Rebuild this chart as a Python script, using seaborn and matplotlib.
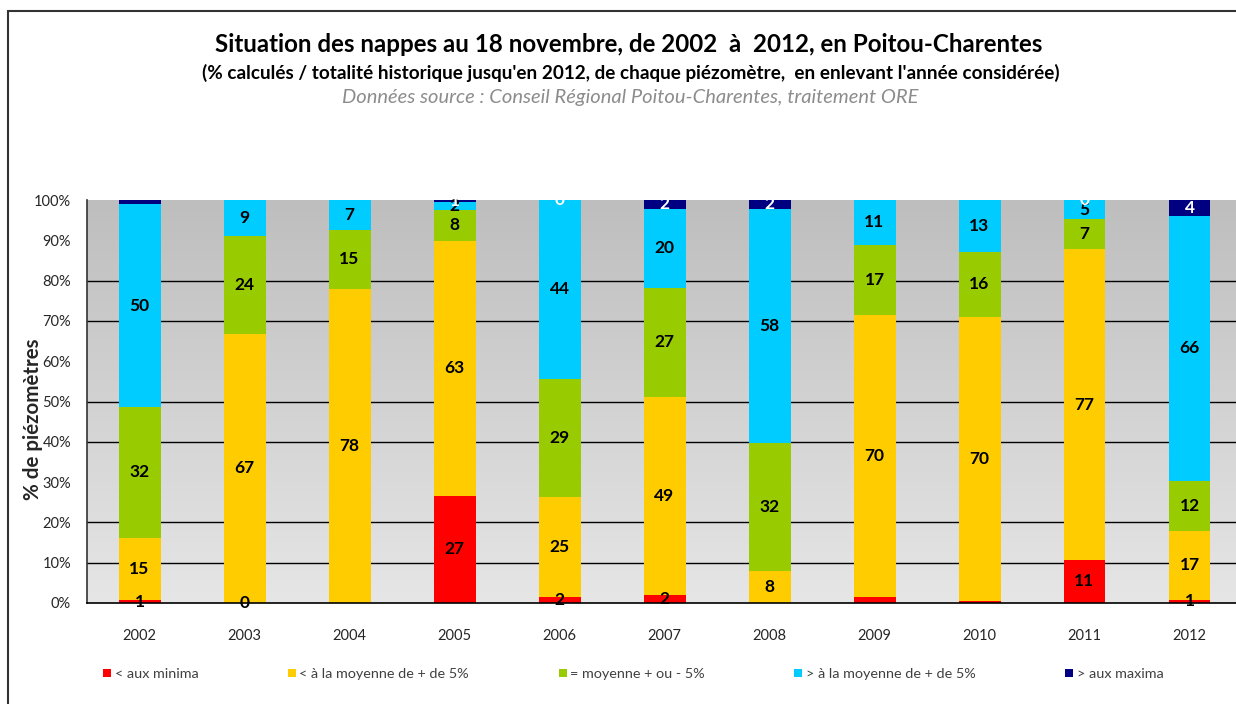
import numpy as np
import pandas as pd
import matplotlib
matplotlib.use("Agg")
import matplotlib.pyplot as plt
from matplotlib.patches import Patch, Rectangle
import seaborn as sns

# ---------------- data ----------------
years = ["2002", "2003", "2004", "2005", "2006", "2007", "2008", "2009", "2010", "2011", "2012"]
series_names = ["< aux minima", "< à la moyenne de + de 5%", "= moyenne + ou - 5%",
                "> à la moyenne de + de 5%", "> aux maxima"]
minima  = [0.7, 0.0, 0.0, 26.6, 1.6, 2.0, 0.0, 1.6, 0.6, 10.7, 0.8]
below   = [15.5, 66.8, 78.0, 63.3, 24.8, 49.1, 7.9, 69.9, 70.4, 77.1, 17.1]
mean_   = [32.4, 24.2, 14.6, 7.6, 29.3, 27.1, 31.8, 17.4, 16.1, 7.4, 12.4]
above   = [50.4, 9.0, 7.4, 1.9, 44.3, 19.6, 58.1, 11.1, 12.9, 4.8, 65.8]
maxima  = [1.0, 0.0, 0.0, 0.6, 0.0, 2.2, 2.2, 0.0, 0.0, 0.0, 3.9]
# data labels as shown on the chart ("" = no label)
lab_minima = ["1", "0", "", "27", "2", "2", "", "", "", "11", "1"]
lab_below  = ["15", "67", "78", "63", "25", "49", "8", "70", "70", "77", "17"]
lab_mean   = ["32", "24", "15", "8", "29", "27", "32", "17", "16", "7", "12"]
lab_above  = ["50", "9", "7", "2", "44", "20", "58", "11", "13", "5", "66"]
lab_maxima = ["", "", "", "1", "0", "2", "2", "", "", "0", "4"]
ytick_vals = [0, 10, 20, 30, 40, 50, 60, 70, 80, 90, 100]
grid_vals = [10, 20, 40, 50, 70, 80]

colors = ["#FF0000", "#FFCC00", "#99CC00", "#00CCFF", "#000080"]
label_colors = ["black", "black", "black", "black", "white"]

series = [minima, below, mean_, above, maxima]
labels = [lab_minima, lab_below, lab_mean, lab_above, lab_maxima]

# ---------------- style ----------------
sns.set_theme(style="white")
plt.rcParams["font.family"] = ["Lato", "DejaVu Sans"]

W, H = 1236, 704
fig = plt.figure(figsize=(W / 100, H / 100), dpi=100)
ax = fig.add_axes([87 / W, (H - 603) / H, 1155 / W, 403 / H])

# normalise to 100 %
arr = np.array(series, dtype=float)
arr = arr / arr.sum(axis=0) * 100.0
cum = np.cumsum(arr, axis=0)

# gradient background
grad = np.linspace(0, 1, 256).reshape(-1, 1)
cmap = matplotlib.colors.LinearSegmentedColormap.from_list("bg", ["#E6E6E6", "#BEBEBE"])
ax.imshow(grad, extent=[-0.5, 10.5, 0, 100], origin="lower", aspect="auto",
          cmap=cmap, zorder=0)

for v in grid_vals:
    ax.axhline(v, color="black", lw=1.0, zorder=1)

# stacked bars via cumulative totals (draw tallest first)
for i in range(len(series) - 1, -1, -1):
    df = pd.DataFrame({"year": years, "value": cum[i]})
    sns.barplot(data=df, x="year", y="value", color=colors[i], width=0.4,
                saturation=1, ax=ax, zorder=2, linewidth=0, errorbar=None)

# data labels
for i in range(len(series)):
    bottoms = cum[i] - arr[i]
    for j, txt in enumerate(labels[i]):
        if txt == "":
            continue
        yc = bottoms[j] + arr[i][j] / 2
        ax.text(j, yc, txt, ha="center", va="center", fontsize=12.5,
                fontweight="bold", color=label_colors[i], zorder=5, clip_on=False)

ax.set_xlim(-0.5, 10.5)
ax.set_ylim(0, 100)
ax.set_yticks(ytick_vals)
ax.set_yticklabels([f"{v}%" for v in ytick_vals])
ax.set_xticks([x + 0.5 for x in range(-1, 11)], minor=True)
ax.tick_params(axis="x", which="major", length=0, pad=19, labelsize=10.5, colors="#262626")
ax.tick_params(axis="x", which="minor", length=5, width=1, color="#333333", direction="out")
ax.tick_params(axis="y", length=5, width=1, color="black", direction="out",
               labelsize=10.5, labelcolor="#262626", pad=6.5)
ax.set_xlabel("")
ax.set_ylabel("% de piézomètres", fontsize=14.8, fontweight="bold")
ax.yaxis.set_label_coords(-44 / 1155, 0.455)
for s in ["top", "right"]:
    ax.spines[s].set_visible(False)
ax.spines["left"].set_color("#333333")
ax.spines["bottom"].set_color("black")
ax.spines["left"].set_linewidth(1.2)
ax.spines["bottom"].set_linewidth(1.2)

# titles
fig.text(629 / W, (H - 45) / H, "Situation des nappes au 18 novembre, de 2002  à  2012, en Poitou-Charentes",
         ha="center", va="center", fontsize=17.4, fontweight="bold", color="black")
fig.text(631 / W, (H - 73) / H,
         "(% calculés / totalité historique jusqu'en 2012, de chaque piézomètre,  en enlevant l'année considérée)",
         ha="center", va="center", fontsize=13.6, fontweight="bold", color="black")
fig.text(630 / W, (H - 97) / H, "Données source : Conseil Régional Poitou-Charentes, traitement ORE",
         ha="center", va="center", fontsize=14.5, fontstyle="italic", color="#8C8C8C")

# legend
handles = [Patch(facecolor=c, edgecolor="none") for c in colors]
fig.legend(handles, series_names, loc="lower left", bbox_to_anchor=(103 / W, (H - 680) / H),
           ncol=5, frameon=False, fontsize=10.4, handlelength=0.55, handleheight=0.55,
           handletextpad=0.25, columnspacing=6.2, borderpad=0, borderaxespad=0,
           labelcolor="#404040")

# outer frame (left & top visible)
fig.patches.append(Rectangle((8 / W, -0.1), 1.2, (H - 11) / H + 0.1, transform=fig.transFigure,
                             fill=False, edgecolor="#333333", lw=1.5, zorder=10))

fig.savefig("out.png", dpi=100)
